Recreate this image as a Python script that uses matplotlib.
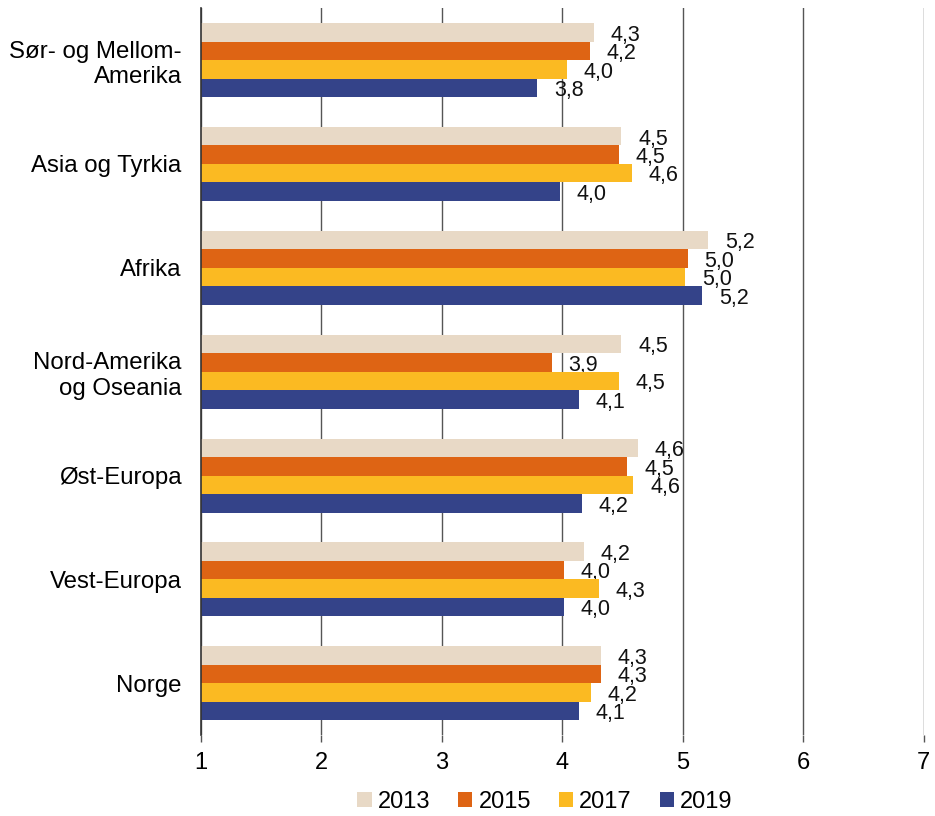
import numpy as np
import matplotlib
matplotlib.use('Agg')
import matplotlib.pyplot as plt

plt.rcParams['font.family'] = ['Liberation Sans', 'DejaVu Sans']

# Data (top to bottom as in the chart)
regions = ['Sør- og Mellom-\nAmerika', 'Asia og Tyrkia', 'Afrika',
           'Nord-Amerika\nog Oseania', 'Øst-Europa', 'Vest-Europa', 'Norge']
years = ['2013', '2015', '2017', '2019']
v2013 = [4.26, 4.49, 5.21, 4.49, 4.63, 4.18, 4.32]
v2015 = [4.23, 4.47, 5.04, 3.91, 4.54, 4.01, 4.32]
v2017 = [4.04, 4.58, 5.02, 4.47, 4.59, 4.30, 4.24]
v2019 = [3.79, 3.98, 5.16, 4.14, 4.16, 4.01, 4.14]
colors = ['#E8D9C6', '#DE6414', '#FBBA22', '#344389']

series = [v2013, v2015, v2017, v2019]
base = 1

fig = plt.figure(figsize=(9.35, 8.16), dpi=100)
ax = fig.add_axes([0.215, 0.099, 0.773, 0.891])

y = np.arange(len(regions))
bar_h = 0.178
offsets = [-1.5 * bar_h, -0.5 * bar_h, 0.5 * bar_h, 1.5 * bar_h]

for vals, col, off, yr in zip(series, colors, offsets, years):
    widths = [v - base for v in vals]
    ax.barh(y + off, widths, left=base, height=bar_h, color=col,
            edgecolor='none', label=yr, zorder=3)
    for yi, v in zip(y, vals):
        ax.annotate(f'{v:.1f}'.replace('.', ','), xy=(v, yi + off),
                    xytext=(12, -2), textcoords='offset points',
                    ha='left', va='center', fontsize=15.5, color='#111111')

ax.set_xlim(1, 7)
ax.set_ylim(len(regions) - 0.5, -0.5)
ax.set_xticks([1, 2, 3, 4, 5, 6, 7])
ax.set_yticks(y)
ax.set_yticklabels(regions, fontsize=17.3)
ax.tick_params(axis='x', labelsize=17, length=5, width=1, color='#555555', pad=7)
ax.tick_params(axis='y', length=0, pad=14)

ax.grid(axis='x', color='#555555', linewidth=1, zorder=0)
for s in ['top', 'right', 'bottom']:
    ax.spines[s].set_visible(False)
ax.spines['left'].set_color('#333333')
ax.spines['left'].set_linewidth(1.2)
ax.spines['left'].set_zorder(4)

fig.legend(loc='center', bbox_to_anchor=(0.583, 0.017), ncol=4,
           frameon=False, fontsize=17, handlelength=0.6, handleheight=0.6,
           handletextpad=0.25, columnspacing=1.2, borderpad=0)

fig.savefig('out.png', dpi=100)
